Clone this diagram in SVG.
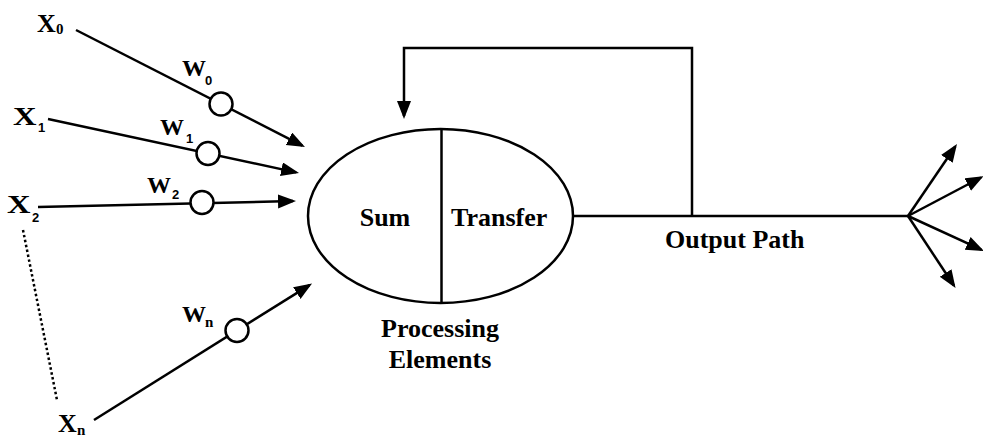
<svg xmlns="http://www.w3.org/2000/svg" width="983" height="439" viewBox="0 0 983 439">
<style>
.ln{stroke:#000;stroke-width:2.5;fill:none}
.arr{marker-end:url(#ah)}
.w{fill:#fff;stroke:#000;stroke-width:2.5}
text{font-family:'Liberation Serif',serif;font-weight:bold;fill:#000}
.t{font-size:26px}
.tw{font-size:24px}
.ss{font-family:'Liberation Sans',sans-serif;font-size:13px}
.sr{font-size:15px}
</style>
<defs>
<marker id="ah" markerUnits="userSpaceOnUse" markerWidth="20" markerHeight="16" refX="15" refY="7" orient="auto">
<path d="M0,0 L18,7 L0,14 z" fill="#000"/>
</marker>
</defs>
<rect width="983" height="439" fill="#fff"/>
<g id="connectors">
<line class="ln arr" x1="76" y1="30" x2="302.3" y2="145.6"/>
<line class="ln arr" x1="48" y1="119" x2="296.1" y2="172.4"/>
<line class="ln arr" x1="38" y1="207" x2="293" y2="201.1"/>
<line class="ln arr" x1="94" y1="420" x2="309.5" y2="285.1"/>
<line class="ln" x1="23" y1="230" x2="57" y2="400" stroke-dasharray="2.5 2.5"/>
<path class="ln arr" d="M692,216 V48 H404 V116"/>
<line class="ln" x1="573" y1="216" x2="908" y2="216"/>
<line class="ln arr" x1="908" y1="216" x2="955.3" y2="146.5"/>
<line class="ln arr" x1="908" y1="216" x2="981" y2="177.5"/>
<line class="ln arr" x1="908" y1="216" x2="981.3" y2="249.7"/>
<line class="ln arr" x1="908" y1="216" x2="953.9" y2="285.5"/>
</g>
<g id="w0"><circle class="w" cx="221" cy="104" r="11.5"/>
<text class="tw" x="182" y="76" font-family="Liberation Serif">W<tspan class="ss" x="205" y="85">0</tspan></text></g>
<g id="w1"><circle class="w" cx="208" cy="153.5" r="11.5"/>
<text class="tw" x="160" y="135" font-family="Liberation Serif">W<tspan class="ss" x="186" y="143">1</tspan></text></g>
<g id="w2"><circle class="w" cx="202" cy="202.5" r="11.5"/>
<text class="tw" x="147" y="193" font-family="Liberation Serif">W<tspan class="ss" x="172" y="199">2</tspan></text></g>
<g id="wn"><circle class="w" cx="237" cy="330.5" r="11.5"/>
<text class="tw" x="182" y="322" font-family="Liberation Serif">W<tspan class="sr" x="205" y="327">n</tspan></text></g>
<g id="x0"><text class="t" x="37" y="32" font-family="Liberation Serif">X<tspan class="sr" x="56" y="34">0</tspan></text></g>
<g id="x1"><text class="t" x="13" y="125" font-family="Liberation Serif"><tspan textLength="23.5" lengthAdjust="spacingAndGlyphs">X</tspan><tspan class="ss" x="38" y="132">1</tspan></text></g>
<g id="x2"><text class="t" x="7" y="213" font-family="Liberation Serif"><tspan textLength="23.5" lengthAdjust="spacingAndGlyphs">X</tspan><tspan class="ss" x="32" y="222">2</tspan></text></g>
<g id="xn"><text class="t" x="58" y="432" font-family="Liberation Serif">X<tspan class="sr" x="77" y="435">n</tspan></text></g>
<g id="pe">
<ellipse class="ln" cx="440.5" cy="216" rx="132.5" ry="87"/>
<line class="ln" x1="441.5" y1="129" x2="441.5" y2="303"/>
<text class="t" x="385" y="226" text-anchor="middle" font-family="Liberation Serif">Sum</text>
<text class="t" x="451" y="226" font-family="Liberation Serif">Transfer</text>
<text class="t" x="440" y="337" text-anchor="middle" font-family="Liberation Serif">Processing</text>
<text class="t" x="440" y="368" text-anchor="middle" font-family="Liberation Serif">Elements</text>
</g>
<g id="output"><text class="t" x="665" y="248" font-family="Liberation Serif">Output Path</text></g>
</svg>
